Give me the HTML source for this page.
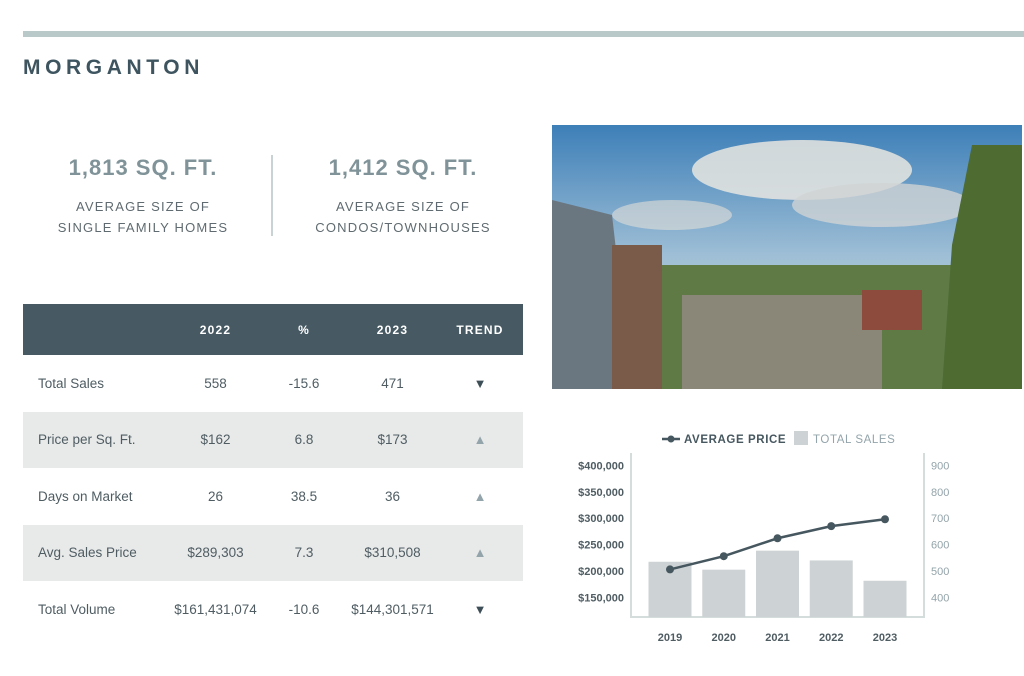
<!DOCTYPE html>
<html><head><meta charset="utf-8"><style>
body{margin:0;width:1024px;height:676px;background:#fff;font-family:"Liberation Sans",sans-serif;position:relative;overflow:hidden}
.a{position:absolute}
.stat{position:absolute;width:240px;text-align:center;color:#7f9398;font-weight:bold;font-size:22px;letter-spacing:1px}
.lab{position:absolute;width:240px;text-align:center;color:#5f6b70;font-size:13px;letter-spacing:1.2px;line-height:21px}
table{position:absolute;left:23px;top:304px;width:500px;border-collapse:collapse;font-size:13.5px;color:#4f5d63}
th{background:#475a64;color:#fff;height:49px;font-size:12px;letter-spacing:1.2px;font-weight:bold}
td{height:56.5px;text-align:center;padding:0}
td.l{text-align:left;padding-left:15px}
tr.g td{background:#e8e9e9}
.up{color:#93a4aa;font-size:13px}.dn{color:#3e4e56;font-size:13px}
</style></head><body>
<div class="a" style="left:23px;top:31px;width:1001px;height:6px;background:#b9c9c9"></div>
<div class="a" style="left:23px;top:56px;font-size:21px;font-weight:bold;letter-spacing:4.6px;color:#3e5560">MORGANTON</div>
<div class="stat" style="left:23px;top:155px">1,813 SQ. FT.</div>
<div class="lab" style="left:23px;top:196px">AVERAGE SIZE OF<br>SINGLE FAMILY HOMES</div>
<div class="a" style="left:271px;top:155px;width:2px;height:81px;background:#c9d3d4"></div>
<div class="stat" style="left:283px;top:155px">1,412 SQ. FT.</div>
<div class="lab" style="left:283px;top:196px">AVERAGE SIZE OF<br>CONDOS/TOWNHOUSES</div>

<table>
<tr><th style="width:146px"></th><th style="width:87px">2022</th><th style="width:86px">%</th><th style="width:87px">2023</th><th>TREND</th></tr>
<tr><td class="l">Total Sales</td><td>558</td><td>-15.6</td><td>471</td><td class="dn">▼</td></tr>
<tr class="g"><td class="l">Price per Sq. Ft.</td><td>$162</td><td>6.8</td><td>$173</td><td class="up">▲</td></tr>
<tr><td class="l">Days on Market</td><td>26</td><td>38.5</td><td>36</td><td class="up">▲</td></tr>
<tr class="g"><td class="l">Avg. Sales Price</td><td>$289,303</td><td>7.3</td><td>$310,508</td><td class="up">▲</td></tr>
<tr><td class="l">Total Volume</td><td>$161,431,074</td><td>-10.6</td><td>$144,301,571</td><td class="dn">▼</td></tr>
</table>

<svg class="a" style="left:552px;top:125px" width="470" height="264">
<defs><linearGradient id="sky" x1="0" y1="0" x2="0" y2="1"><stop offset="0" stop-color="#3d7fb8"/><stop offset="0.5" stop-color="#9fbfd6"/><stop offset="1" stop-color="#c9d3d2"/></linearGradient></defs>
<rect width="470" height="264" fill="url(#sky)"/>
<ellipse cx="250" cy="45" rx="110" ry="30" fill="#e8e6e0" opacity="0.85"/>
<ellipse cx="330" cy="80" rx="90" ry="22" fill="#d0d3d4" opacity="0.8"/>
<ellipse cx="120" cy="90" rx="60" ry="15" fill="#e3e0d8" opacity="0.6"/>
<rect y="140" width="470" height="124" fill="#5f7a45"/>
<rect x="130" y="170" width="200" height="94" fill="#8a8678"/>
<polygon points="0,75 60,90 80,264 0,264" fill="#6b7780"/>
<rect x="60" y="120" width="50" height="144" fill="#7a5a48"/>
<polygon points="420,20 470,20 470,264 390,264 400,120" fill="#4e6b32"/>
<rect x="310" y="165" width="60" height="40" fill="#8c4b3c"/>
</svg>

<svg class="a" style="left:0;top:0" width="1024" height="676" id="chart"></svg>
<script>
const years=["2019","2020","2021","2022","2023"];
const avgPrice=[203000,228000,262000,285000,298000];
const totalSales=[535,505,577,540,463];
const leftTicks=[150000,200000,250000,300000,350000,400000];
const rightTicks=[400,500,600,700,800,900];
const NS="http://www.w3.org/2000/svg";
const svg=document.getElementById('chart');
const yL=v=>571-(v-200000)/50000*26.4;
const yR=v=>571-(v-500)/100*26.4;
const xC=i=>670+i*53.75;
const base=617;
function mk(t,a){const e=document.createElementNS(NS,t);for(const k in a)e.setAttribute(k,a[k]);svg.appendChild(e);return e;}
let e;
e=mk('line',{x1:631,y1:453,x2:631,y2:base,stroke:'#d5dcdc','stroke-width':2});


e=mk('line',{x1:924,y1:453,x2:924,y2:base,stroke:'#d5dcdc','stroke-width':2});


e=mk('line',{x1:630,y1:base,x2:925,y2:base,stroke:'#d5dcdc','stroke-width':2});


leftTicks.forEach(v=>{const t=mk('text',{x:624,y:yL(v)+4,'text-anchor':'end','font-size':11,'font-weight':'bold',fill:'#4f5d63'});t.textContent='$'+v.toLocaleString('en-US');

});
rightTicks.forEach(v=>{const t=mk('text',{x:931,y:yR(v)+4,'font-size':11,fill:'#93a4aa'});t.textContent=v;

});
totalSales.forEach((v,i)=>{const r=mk('rect',{x:xC(i)-21.5,y:yR(v),width:43,height:base-yR(v),fill:'#cdd3d4'});

});
years.forEach((y,i)=>{const t=mk('text',{x:xC(i),y:641,'text-anchor':'middle','font-size':11,'font-weight':'bold',fill:'#4f5d63'});t.textContent=y;

});
const pl=mk('polyline',{points:avgPrice.map((v,i)=>xC(i)+','+yL(v)).join(' '),fill:'none',stroke:'#46575f','stroke-width':2.5});


avgPrice.forEach((v,i)=>{const c=mk('circle',{cx:xC(i),cy:yL(v),r:4,fill:'#46575f'});

});
e=mk('line',{x1:662,y1:439,x2:680,y2:439,stroke:'#46575f','stroke-width':2.5});


e=mk('circle',{cx:671,cy:439,r:3.5,fill:'#46575f'});


e=mk('text',{x:684,y:443,'font-size':11.5,'font-weight':'bold',fill:'#46575f','letter-spacing':0.6});e.textContent='AVERAGE PRICE';


e=mk('rect',{x:794,y:431,width:14,height:14,fill:'#cdd3d4'});


e=mk('text',{x:813,y:443,'font-size':11.5,fill:'#93a4aa','letter-spacing':0.6});e.textContent='TOTAL SALES';


</script>
</body></html>
